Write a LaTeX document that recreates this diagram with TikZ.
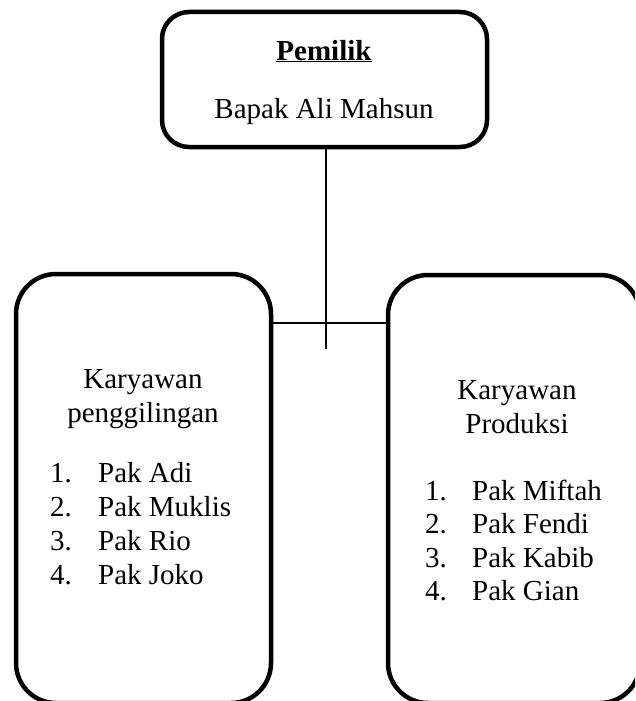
\documentclass[tikz,border=0pt]{standalone}
\usepackage{fontspec}
\setmainfont{Liberation Serif}
\begin{document}
\begin{tikzpicture}[x=1pt,y=-1pt,
  box/.style={draw=black,line width=4.5pt,rounded corners=#1},
  conn/.style={draw=black,line width=1.4pt},
  txt/.style={anchor=base,inner sep=0pt,font=\fontsize{29}{34}\selectfont},
  lbl/.style={anchor=base west,inner sep=0pt,font=\fontsize{29}{34}\selectfont}]
\useasboundingbox (0,0) rectangle (635,701);
\begin{scope}
\clip (0,0) rectangle (635,701);
% boxes
\path[box=27] (162,12) rectangle (487,147);
\path[box=40] (16,274) rectangle (271,703);
\path[box=40] (388,275) rectangle (640,703);
\node[inner sep=0pt,minimum width=325pt,minimum height=135pt] (top) at (324.5,79.5) {};
\node[inner sep=0pt,minimum width=255pt,minimum height=429pt] (left) at (143.5,488.5) {};
\node[inner sep=0pt,minimum width=252pt,minimum height=428pt] (right) at (514,489) {};
\end{scope}
% connectors
\coordinate (vend) at (326,349);
\coordinate (hy) at (326,323);
\draw[conn] (top.south -| vend) -- (vend);
\draw[conn] (left.east |- hy) -- (right.west |- hy);
% top text
\node[txt] (t1) at (324,60) {\textbf{\underline{Pemilik}}};
\node[txt] (t2) at (324,118) {Bapak Ali Mahsun};
% left text
\node[txt] (l1) at (143,388) {Karyawan};
\node[txt] (l2) at (143,422) {penggilingan};
\node[lbl] (ln1) at (50,482) {1.};
\node[lbl] (ln2) at (50,516) {2.};
\node[lbl] (ln3) at (50,550) {3.};
\node[lbl] (ln4) at (50,584) {4.};
\node[lbl] (la1) at (98,482) {Pak Adi};
\node[lbl] (la2) at (98,516) {Pak Muklis};
\node[lbl] (la3) at (98,550) {Pak Rio};
\node[lbl] (la4) at (98,584) {Pak Joko};
% right text
\node[txt] (r1) at (517,399) {Karyawan};
\node[txt] (r2) at (517,433) {Produksi};
\node[lbl] (rn1) at (425,500) {1.};
\node[lbl] (rn2) at (425,533) {2.};
\node[lbl] (rn3) at (425,567) {3.};
\node[lbl] (rn4) at (425,600) {4.};
\node[lbl] (ra1) at (472,500) {Pak Miftah};
\node[lbl] (ra2) at (472,533) {Pak Fendi};
\node[lbl] (ra3) at (472,567) {Pak Kabib};
\node[lbl] (ra4) at (472,600) {Pak Gian};
\end{tikzpicture}
\end{document}
